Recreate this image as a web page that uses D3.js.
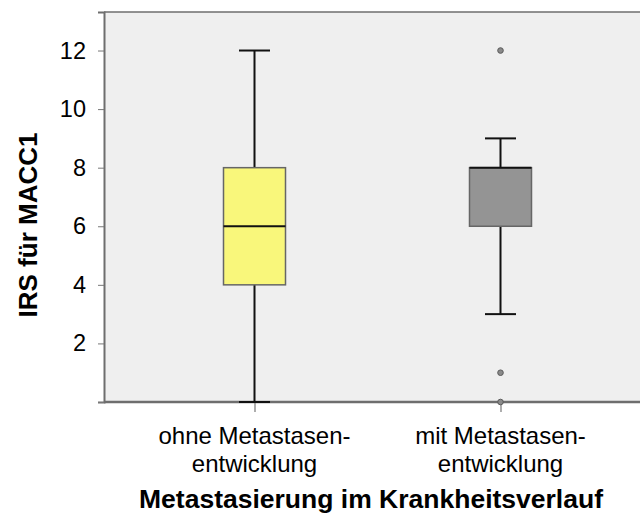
<!DOCTYPE html>
<html>
<head>
<meta charset="utf-8">
<script src="https://cdn.jsdelivr.net/npm/d3@7"></script>
<style>
  html, body { margin: 0; padding: 0; background: #fff; }
  svg { display: block; }
  text { font-family: Arial, "Liberation Sans", sans-serif; fill: #000; }
</style>
</head>
<body>
<svg id="chart" width="640" height="513"></svg>
<script>
const categories = ["ohne Metastasen-\nentwicklung", "mit Metastasen-\nentwicklung"];
const whiskerLow  = [0, 3];
const q1          = [4, 6];
const medians     = [6, 8];
const q3          = [8, 8];
const whiskerHigh = [12, 9];
const outliers    = [[], [12, 1, 0]];
const fills       = ["#f9f77b", "#949494"];
const yTicks      = [0, 2, 4, 6, 8, 10, 12];
const yTickLabels = ["", "2", "4", "6", "8", "10", "12"];
const yTitle = "IRS für MACC1";
const xTitle = "Metastasierung im Krankheitsverlauf";

const svg = d3.select("#chart");
const plot = { left: 104, right: 640, top: 12, bottom: 402 };

const y = d3.scaleLinear().domain([0, 13.315]).range([plot.bottom, plot.top]);
const x = d3.scalePoint().domain(categories).range([254.5, 500.5]);

// background
svg.append("rect")
  .attr("x", plot.left).attr("y", plot.top)
  .attr("width", plot.right - plot.left).attr("height", plot.bottom - plot.top)
  .attr("fill", "#efefef");

// frame lines
svg.append("line").attr("x1", plot.left).attr("x2", plot.right)
  .attr("y1", plot.top).attr("y2", plot.top)
  .attr("stroke", "#6e6e6e").attr("stroke-width", 1.5);

// y axis
const yAxis = d3.axisLeft(y).tickValues(yTicks)
  .tickFormat((d, i) => yTickLabels[i]).tickSize(6).tickPadding(12);
const gy = svg.append("g").attr("transform", `translate(${plot.left},0)`).call(yAxis);
gy.select(".domain").attr("stroke", "#6e6e6e").attr("stroke-width", 2);
gy.selectAll(".tick line").attr("stroke", "#777").attr("stroke-width", 1);
gy.selectAll(".tick text").style("font-size", "23.5px")
  .attr("font-family", "Arial, 'Liberation Sans', sans-serif");

// x axis
const xAxis = d3.axisBottom(x).tickSize(10).tickFormat("");
const gx = svg.append("g").attr("transform", `translate(0,${plot.bottom})`).call(xAxis);
gx.select(".domain").remove();
gx.append("line").attr("x1", plot.left).attr("x2", plot.right)
  .attr("y1", 0).attr("y2", 0).attr("stroke", "#6e6e6e").attr("stroke-width", 2.5);
gx.selectAll(".tick line").attr("stroke", "#777").attr("stroke-width", 1.2);

// category labels
categories.forEach(c => {
  const lines = c.split("\n");
  const t = svg.append("text")
    .attr("x", x(c)).attr("y", 444)
    .attr("text-anchor", "middle")
    .style("font-size", "24px");
  lines.forEach((l, i) => {
    t.append("tspan").attr("x", x(c)).attr("dy", i === 0 ? 0 : 28).text(l);
  });
});

// boxes
const boxW = 62, capW = 31;
categories.forEach((c, i) => {
  const cx = x(c);
  const g = svg.append("g");
  g.append("line").attr("x1", cx).attr("x2", cx)
    .attr("y1", y(q3[i])).attr("y2", y(whiskerHigh[i]))
    .attr("stroke", "#111").attr("stroke-width", 2);
  g.append("line").attr("x1", cx).attr("x2", cx)
    .attr("y1", y(q1[i])).attr("y2", y(whiskerLow[i]))
    .attr("stroke", "#111").attr("stroke-width", 2);
  g.append("line").attr("x1", cx - capW / 2).attr("x2", cx + capW / 2)
    .attr("y1", y(whiskerHigh[i])).attr("y2", y(whiskerHigh[i]))
    .attr("stroke", "#111").attr("stroke-width", 2);
  g.append("line").attr("x1", cx - capW / 2).attr("x2", cx + capW / 2)
    .attr("y1", y(whiskerLow[i])).attr("y2", y(whiskerLow[i]))
    .attr("stroke", "#111").attr("stroke-width", 2);
  g.append("rect")
    .attr("x", cx - boxW / 2).attr("y", y(q3[i]))
    .attr("width", boxW).attr("height", y(q1[i]) - y(q3[i]))
    .attr("fill", fills[i]).attr("stroke", "#666").attr("stroke-width", 1.5);
  g.append("line").attr("x1", cx - boxW / 2).attr("x2", cx + boxW / 2)
    .attr("y1", y(medians[i])).attr("y2", y(medians[i]))
    .attr("stroke", "#111").attr("stroke-width", 2);
  outliers[i].forEach(v => {
    g.append("circle").attr("cx", cx).attr("cy", y(v)).attr("r", 2.8)
      .attr("fill", "#8a8a8a").attr("stroke", "#5a5a5a").attr("stroke-width", 1);
  });
});

// titles
svg.append("text")
  .attr("transform", "translate(37,225) rotate(-90)")
  .attr("text-anchor", "middle")
  .style("font-size", "26px").style("font-weight", "bold")
  .text(yTitle);

svg.append("text")
  .attr("x", 371).attr("y", 508)
  .attr("text-anchor", "middle")
  .style("font-size", "26.5px").style("font-weight", "bold")
  .text(xTitle);
</script>
</body>
</html>
